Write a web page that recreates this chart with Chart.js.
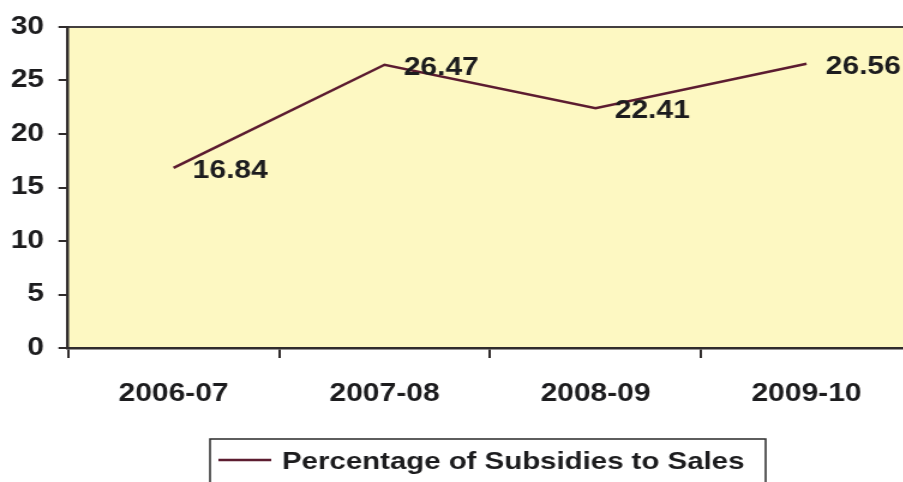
<!DOCTYPE html>
<html>
<head>
<meta charset="utf-8">
<script src="https://cdn.jsdelivr.net/npm/chart.js@4/dist/chart.umd.min.js"></script>
<style>
  html, body { margin: 0; padding: 0; background: #ffffff; overflow: hidden; }
  #wrap { width: 762px; height: 482px; transform: scaleX(1.2); transform-origin: 0 0; }
</style>
</head>
<body>
<div id="wrap"><canvas id="c" width="762" height="482"></canvas></div>
<script>
// Fiscal years and subsidy share (%) of sales
const years = ['2006-07', '2007-08', '2008-09', '2009-10'];
const subsidyPct = [16.84, 26.47, 22.41, 26.56];
const seriesName = 'Percentage of Subsidies to Sales';
const yTicks = [0, 5, 10, 15, 20, 25, 30];

const FONT = '"Liberation Sans", Arial, Helvetica, sans-serif';
const INK = '#1c1c1e';
const LINE = '#5c1c30';
const AXIS = '#302c2c';

// Pale yellow plot panel plus its top border
const panel = {
  id: 'panel',
  beforeDraw(chart) {
    const { ctx, chartArea: a } = chart;
    ctx.save();
    ctx.fillStyle = '#fdf8c2';
    ctx.fillRect(a.left, a.top, a.right - a.left, a.bottom - a.top);
    ctx.strokeStyle = '#444040';
    ctx.lineWidth = 2;
    ctx.beginPath();
    ctx.moveTo(a.left, a.top);
    ctx.lineTo(a.right, a.top);
    ctx.stroke();
    ctx.restore();
  }
};

// Value labels to the right of each point
const valueLabels = {
  id: 'valueLabels',
  afterDatasetsDraw(chart) {
    const { ctx } = chart;
    const meta = chart.getDatasetMeta(0);
    const data = chart.data.datasets[0].data;
    ctx.save();
    ctx.font = 'bold 25px ' + FONT;
    ctx.fillStyle = INK;
    ctx.textAlign = 'left';
    ctx.textBaseline = 'middle';
    meta.data.forEach((pt, i) => {
      ctx.fillText(data[i].toFixed(2), pt.x + 16, pt.y + 3);
    });
    ctx.restore();
  }
};

// Boxed legend under the axis
const boxLegend = {
  id: 'boxLegend',
  afterDraw(chart) {
    const { ctx } = chart;
    const ds = chart.data.datasets[0];
    ctx.save();
    ctx.strokeStyle = '#2a2a2a';
    ctx.lineWidth = 1.5;
    ctx.strokeRect(175, 439, 463, 60);
    ctx.strokeStyle = ds.borderColor;
    ctx.lineWidth = 2.5;
    ctx.beginPath();
    ctx.moveTo(182, 460);
    ctx.lineTo(226, 460);
    ctx.stroke();
    ctx.font = 'bold 24.5px ' + FONT;
    ctx.fillStyle = INK;
    ctx.textAlign = 'left';
    ctx.textBaseline = 'middle';
    ctx.fillText(ds.label, 235, 462);
    ctx.restore();
  }
};

new Chart(document.getElementById('c'), {
  type: 'line',
  data: {
    labels: years,
    datasets: [{
      label: seriesName,
      data: subsidyPct,
      borderColor: LINE,
      borderWidth: 2.5,
      pointRadius: 0,
      tension: 0,
      fill: false
    }]
  },
  options: {
    responsive: false,
    animation: false,
    devicePixelRatio: 1,
    layout: { padding: { top: 26, right: 2, left: 0, bottom: 0 } },
    plugins: { legend: { display: false }, tooltip: { enabled: false } },
    scales: {
      x: {
        offset: true,
        grid: { offset: true, drawOnChartArea: false, drawTicks: true, tickLength: 10, color: AXIS, lineWidth: 2 },
        border: { color: AXIS, width: 2.5 },
        ticks: { color: INK, font: { family: FONT, size: 25, weight: 'bold' }, padding: 21, maxRotation: 0 },
        afterFit(s) { s.height = 134; }
      },
      y: {
        min: 0,
        max: 30,
        afterBuildTicks(s) { s.ticks = yTicks.map(v => ({ value: v })); },
        grid: { drawOnChartArea: false, drawTicks: true, tickLength: 8, color: AXIS, lineWidth: 2 },
        border: { color: AXIS, width: 2.5 },
        ticks: { color: INK, font: { family: FONT, size: 25, weight: 'bold' }, padding: 12 },
        afterFit(s) { s.width = 56.7; }
      }
    }
  },
  plugins: [panel, valueLabels, boxLegend]
});
</script>
</body>
</html>
